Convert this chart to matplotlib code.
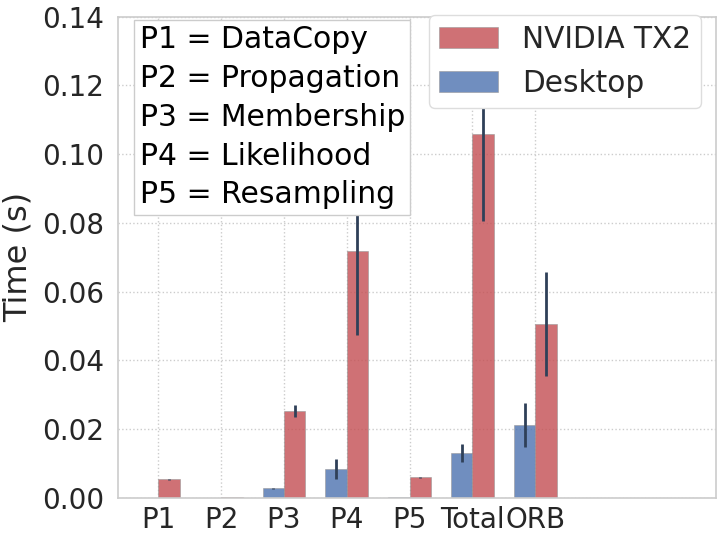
import numpy as np
import matplotlib
matplotlib.use("Agg")
import matplotlib.pyplot as plt

# data
categories = ["P1", "P2", "P3", "P4", "P5", "Total", "ORB"]
desktop_mean = [0.0001, 0.0001, 0.0028, 0.0084, 0.0003, 0.0131, 0.0212]
desktop_err = [0.0, 0.0, 0.0002, 0.0028, 0.0001, 0.0027, 0.0064]
tx2_mean = [0.0054, 0.0002, 0.0252, 0.0718, 0.0060, 0.1058, 0.0506]
tx2_err = [0.0001, 0.0, 0.0018, 0.0244, 0.0002, 0.0252, 0.0152]
phase_names = ["DataCopy", "Propagation", "Membership", "Likelihood", "Resampling"]

blue = "#4C72B0"
red = "#C44E52"
ecol = "#2f4058"
txt = "#262626"

plt.rcParams['font.family'] = ['DejaVu Sans']

fig = plt.figure(figsize=(7.2, 5.4), dpi=100)
ax = fig.add_axes([0.164, 0.078, 0.83, 0.891])

idx = np.arange(len(categories))
w = 0.34

ax.bar(idx - w / 2, desktop_mean, w, yerr=desktop_err, color=blue, alpha=0.8,
       edgecolor="#999999", linewidth=0.5, label="Desktop",
       error_kw=dict(ecolor=ecol, elinewidth=2, capsize=0))
ax.bar(idx + w / 2, tx2_mean, w, yerr=tx2_err, color=red, alpha=0.8,
       edgecolor="#999999", linewidth=0.5, label="NVIDIA TX2",
       error_kw=dict(ecolor=ecol, elinewidth=2, capsize=0))

ax.set_xlim(-0.64, 8.87)
ax.set_ylim(0, 0.14)
ax.set_xticks(idx)
ax.set_xticklabels(categories)
ax.set_yticks(np.arange(0, 0.141, 0.02))
ax.set_yticklabels([f"{v:.2f}" for v in np.arange(0, 0.141, 0.02)])
ax.tick_params(labelsize=20, colors=txt, length=0)
ax.tick_params(axis="x", pad=6)
ax.tick_params(axis="y", pad=10)
ax.set_ylabel("Time (s)", fontsize=23, color=txt, labelpad=6)

ax.grid(True, linestyle=":", color="#cccccc", linewidth=1)
ax.set_axisbelow(True)
for s in ax.spines.values():
    s.set_color("#cccccc")
    s.set_linewidth(1.2)

handles, labels = ax.get_legend_handles_labels()
leg = ax.legend(handles[::-1], labels[::-1], loc="upper right", fontsize=21.3,
                frameon=True, fancybox=True, framealpha=1.0,
                bbox_to_anchor=(0.976, 1.004), borderaxespad=0.0,
                labelspacing=0.5, borderpad=0.35)
leg.get_frame().set_edgecolor("#dddddd")
leg.set_zorder(10)
for t in leg.get_texts():
    t.set_color(txt)

box_text = "\n".join(f"P{i + 1} = {n}" for i, n in enumerate(phase_names))
tb = ax.text(0.036, 0.983, box_text, transform=ax.transAxes, fontsize=21.5,
             va="top", ha="left", color="black", linespacing=1.43,
             bbox=dict(boxstyle="square,pad=0.18", facecolor="white",
                       edgecolor="#cccccc"))
tb.set_zorder(10)

fig.savefig("out.png", dpi=100)
